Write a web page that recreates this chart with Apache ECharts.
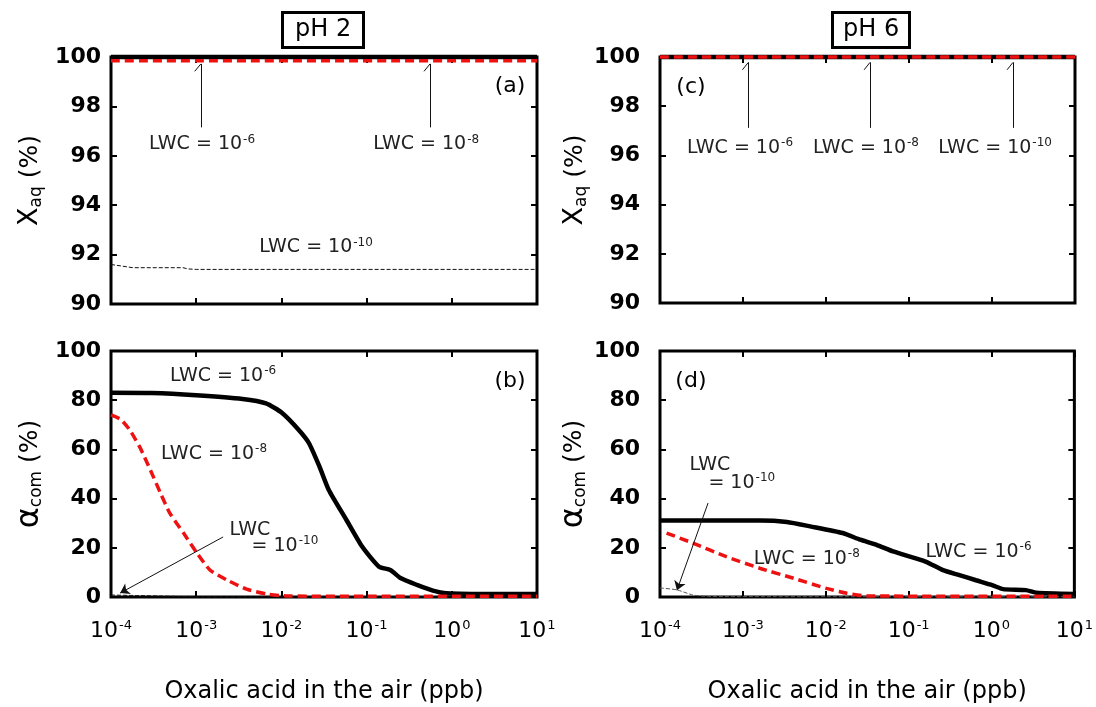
<!DOCTYPE html>
<html><head><meta charset="utf-8">
<script src="https://cdn.jsdelivr.net/npm/echarts@6/dist/echarts.min.js"></script>
<style>html,body{margin:0;padding:0;background:#fff}#c{width:1096px;height:707px}</style>
</head><body><div id="c"></div>
<script>
// ---------- data ----------
const tickExponents = ['-4', '-3', '-2', '-1', '0', '1'];
const panelTitles = ['pH 2', 'pH 6'];

// (a) pH 2, X_aq (%)
const aX_lwc6 = [1e-4, 10];
const aY_lwc6 = [100, 100];
const aX_lwc8 = [1e-4, 10];
const aY_lwc8 = [99.85, 99.85];
const aX_lwc10 = [1e-4, 1.8e-4, 7e-4, 8e-4, 1e-3, 10];
const aY_lwc10 = [91.6, 91.47, 91.47, 91.42, 91.4, 91.4];

// (b) pH 2, alpha_com (%)
const bX_lwc6 = [1e-4, 3e-4, 1e-3, 3.5e-3, 6.6e-3, 1.02e-2, 1.6e-2, 2.1e-2, 2.8e-2, 3.6e-2, 5.8e-2, 8.9e-2, 0.14, 0.19, 0.25, 0.39, 0.6, 0.87, 3.2, 10];
const bY_lwc6 = [83, 82.9, 82, 80.5, 78.7, 74.8, 67.9, 62.6, 53, 43.5, 31.3, 20.4, 12.3, 11, 7.7, 4.9, 2.6, 1.5, 1.2, 1.2];
const bX_lwc8 = [1e-4, 1.3e-4, 1.66e-4, 2.2e-4, 2.9e-4, 3.8e-4, 4.9e-4, 7.1e-4, 1.02e-3, 1.45e-3, 2.3e-3, 3.9e-3, 6.8e-3, 1.2e-2, 0.1, 10];
const bY_lwc8 = [74, 72.2, 67.9, 60.6, 51.6, 42.3, 34.1, 26, 17.9, 11, 6.9, 3.2, 1.2, 0.4, 0.3, 0.3];
const bX_lwc10 = [1e-4, 2e-4, 5e-4, 1e-3, 10];
const bY_lwc10 = [0.8, 0.6, 0.3, 0.1, 0.05];

// (c) pH 6, X_aq (%)
const cX_lwc6 = [1e-4, 10];
const cY_lwc6 = [100, 100];
const cX_lwc8 = [1e-4, 10];
const cY_lwc8 = [100, 100];
const cX_lwc10 = [1e-4, 10];
const cY_lwc10 = [100, 100];

// (d) pH 6, alpha_com (%)
const dX_lwc6 = [1e-4, 1.6e-3, 3.4e-3, 6.5e-3, 1.6e-2, 2.6e-2, 4.1e-2, 6.5e-2, 0.16, 0.26, 0.41, 0.65, 1.02, 1.38, 2.6, 3.5, 10];
const dY_lwc6 = [31.1, 31.1, 30.5, 28.7, 26, 23.3, 21.2, 18.5, 14.4, 10.9, 8.9, 6.8, 4.8, 3.2, 2.8, 1.7, 1.2];
const dX_lwc8 = [1.2e-4, 2.5e-4, 6.3e-4, 1.6e-3, 4.1e-3, 1.02e-2, 1.8e-2, 3.1e-2, 10];
const dY_lwc8 = [26, 21.9, 16.4, 11.7, 7.6, 3.5, 1.5, 0.4, 0.3];
const dX_lwc10 = [1e-4, 1.6e-4, 2.5e-4, 4e-4, 10];
const dY_lwc10 = [3.7, 2.9, 0.8, 0.2, 0.1];

// ---------- helpers ----------
const FONT = 'DejaVu Sans';
const RED = '#ee1111';
const zip = (xs, ys) => xs.map((x, i) => [x, ys[i]]);

const RICH = {
  n: {fontFamily: FONT, fontSize: 19, color: '#222', lineHeight: 22},
  s: {fontFamily: FONT, fontSize: 12, color: '#222', verticalAlign: 'top', lineHeight: 12, padding: [0, 0, 0, 1]},
  p: {fontFamily: FONT, fontSize: 22, color: '#000', lineHeight: 26}
};
const txt = (x, y, s) => ({coord: [x, y], label: {formatter: s}});
const seg = (x1, y1, x2, y2) => [{coord: [x1, y1]}, {coord: [x2, y2]}];

function marks(texts, lines, arrows) {
  return {
    markPoint: {
      symbol: 'circle', symbolSize: 1, silent: true, animation: false,
      itemStyle: {color: 'rgba(0,0,0,0)'},
      label: {show: true, position: 'inside', color: '#222', rich: RICH},
      data: texts
    },
    markLine: {
      silent: true, animation: false, symbol: ['none', 'none'],
      label: {show: false},
      lineStyle: {color: '#111', width: 1, type: 'solid'},
      data: lines.concat(arrows.map(a => [a[0], Object.assign({}, a[1], {symbol: 'arrow', symbolSize: 9})]))
    }
  };
}

function lineSeries(name, xi, data, style, extra) {
  return Object.assign({
    name, type: 'line', xAxisIndex: xi, yAxisIndex: xi, data,
    showSymbol: false, symbol: 'none', smooth: 0.2, animation: false,
    lineStyle: style, clip: false
  }, extra || {});
}
const S6 = {color: '#000', width: 4.5, type: 'solid'};
const S8 = {color: RED, width: 3.5, type: [9, 5]};
const S10 = {color: '#111', width: 1, type: [4, 2]};

// ---------- layout ----------
const grids = [
  {left: 111, top: 57, width: 426, height: 247},
  {left: 111, top: 351, width: 426, height: 246},
  {left: 660, top: 57, width: 415, height: 246},
  {left: 660, top: 351, width: 415, height: 246}
].map(g => Object.assign(g, {show: true, borderColor: '#000', borderWidth: 3, backgroundColor: 'transparent'}));

const tick = {show: true, inside: true, length: 6, lineStyle: {color: '#000', width: 2}};
const xAxes = [], yAxes = [];
grids.forEach((g, i) => {
  const bottomRow = (i === 1 || i === 3);
  const leftCol = (i < 2);
  xAxes.push({
    type: 'log', logBase: 10, min: 1e-4, max: 10, gridIndex: i, position: 'bottom',
    axisLine: {show: false, onZero: false}, axisTick: tick, splitLine: {show: false}, minorTick: {show: false},
    axisLabel: {
      show: bottomRow, margin: 22,
      formatter: v => '{b|10}{s|' + tickExponents[Math.round(Math.log10(v)) + 4] + '}',
      rich: {
        b: {fontFamily: FONT, fontSize: 22, color: '#000', lineHeight: 24},
        s: {fontFamily: FONT, fontSize: 13, color: '#000', verticalAlign: 'top', lineHeight: 13, padding: [0, 0, 0, 1]}
      }
    },
    name: bottomRow ? 'Oxalic acid in the air (ppb)' : '', nameLocation: 'middle', nameGap: 83,
    nameTextStyle: {fontFamily: FONT, fontSize: 24, color: '#000'}
  });
  xAxes.push({
    type: 'log', logBase: 10, min: 1e-4, max: 10, gridIndex: i, position: 'top',
    axisLine: {show: false, onZero: false}, axisTick: tick, splitLine: {show: false},
    axisLabel: {show: false}
  });
  const top = (i === 0 || i === 2);
  yAxes.push({
    type: 'value', gridIndex: i, position: 'left',
    min: top ? 90 : 0, max: 100, interval: top ? 2 : 20,
    axisLine: {show: false, onZero: false}, axisTick: tick, splitLine: {show: false},
    axisLabel: {margin: leftCol ? 10 : 20, fontFamily: FONT, fontSize: 22, fontWeight: 'bold', color: '#000'},
    name: top ? '{x|X}{sub|aq}{p| (%)}' : '{a|α}{sub|com}{p| (%)}',
    nameLocation: 'middle', nameGap: leftCol ? 66 : 56,
    nameTextStyle: {
      fontFamily: FONT, fontSize: 24, color: '#000',
      rich: {
        x: {fontFamily: FONT, fontSize: 27, color: '#000', lineHeight: 30},
        a: {fontFamily: FONT, fontSize: 32, color: '#000', lineHeight: 30},
        sub: {fontFamily: FONT, fontSize: 17, color: '#000', verticalAlign: 'bottom', lineHeight: 17},
        p: {fontFamily: FONT, fontSize: 25, color: '#000', lineHeight: 30}
      }
    }
  });
  yAxes.push({
    type: 'value', gridIndex: i, position: 'right',
    min: top ? 90 : 0, max: 100, interval: top ? 2 : 20,
    axisLine: {show: false, onZero: false}, axisTick: tick, splitLine: {show: false},
    axisLabel: {show: false}
  });
});

// grid i -> primary x axis 2i, primary y axis 2i
const series = [
  // (a)
  lineSeries('a10', 0, zip(aX_lwc10, aY_lwc10), S10, Object.assign({smooth: false}, marks(
    [txt(1.17e-3, 96.46, '{n|LWC = 10}{s|-6}'),
     txt(0.50, 96.46, '{n|LWC = 10}{s|-8}'),
     txt(2.55e-2, 92.29, '{n|LWC = 10}{s|-10}'),
     txt(4.82, 98.82, '{p|(a)}')],
    [seg(9.6e-4, 99.42, 1.135e-3, 99.72), seg(1.135e-3, 99.72, 1.135e-3, 97.15),
     seg(0.472, 99.42, 0.555, 99.72), seg(0.555, 99.72, 0.555, 97.15)],
    []))),
  lineSeries('a6', 0, zip(aX_lwc6, aY_lwc6), S6),
  lineSeries('a8', 0, zip(aX_lwc8, aY_lwc8), S8),
  // (b)
  lineSeries('b10', 2, zip(bX_lwc10, bY_lwc10), S10, marks(
    [txt(2.07e-3, 89.8, '{n|LWC = 10}{s|-6}'),
     txt(1.62e-3, 58.1, '{n|LWC = 10}{s|-8}'),
     txt(4.27e-3, 27.2, '{n|LWC}'),
     txt(1.10e-2, 20.7, '{n|= 10}{s|-10}'),
     txt(4.82, 87.8, '{p|(b)}')],
    [],
    [seg(2.07e-3, 24.4, 1.28e-4, 1.6)])),
  lineSeries('b6', 2, zip(bX_lwc6, bY_lwc6), S6),
  lineSeries('b8', 2, zip(bX_lwc8, bY_lwc8), S8),
  // (c)
  lineSeries('c10', 4, zip(cX_lwc10, cY_lwc10), S10, marks(
    [txt(2.36e-4, 98.78, '{p|(c)}'),
     txt(9.2e-4, 96.3, '{n|LWC = 10}{s|-6}'),
     txt(3.03e-2, 96.3, '{n|LWC = 10}{s|-8}'),
     txt(1.09, 96.3, '{n|LWC = 10}{s|-10}')],
    [seg(9.84e-4, 99.48, 1.159e-3, 99.78), seg(1.159e-3, 99.78, 1.159e-3, 97.12),
     seg(2.88e-2, 99.48, 3.39e-2, 99.78), seg(3.39e-2, 99.78, 3.39e-2, 97.12),
     seg(1.52, 99.48, 1.79, 99.78), seg(1.79, 99.78, 1.79, 97.12)],
    [])),
  lineSeries('c6', 4, zip(cX_lwc6, cY_lwc6), S6),
  lineSeries('c8', 4, zip(cX_lwc8, cY_lwc8), S8),
  // (d)
  lineSeries('d10', 6, zip(dX_lwc10, dY_lwc10), Object.assign({}, S10, {color: '#555'}), marks(
    [txt(2.36e-4, 87.6, '{p|(d)}'),
     txt(4.0e-4, 53.8, '{n|LWC}'),
     txt(9.7e-4, 46.4, '{n|= 10}{s|-10}'),
     txt(5.9e-3, 15.4, '{n|LWC = 10}{s|-8}'),
     txt(0.697, 18.2, '{n|LWC = 10}{s|-6}')],
    [],
    [seg(3.8e-4, 38.2, 1.6e-4, 2.7)])),
  lineSeries('d6', 6, zip(dX_lwc6, dY_lwc6), S6),
  lineSeries('d8', 6, zip(dX_lwc8, dY_lwc8), S8)
];

const titleStyle = {fontFamily: FONT, fontSize: 24, fontWeight: 'normal', color: '#000', lineHeight: 26};
const option = {
  backgroundColor: '#fff',
  animation: false,
  title: [
    {text: panelTitles[0], left: 282, top: 12, padding: [5, 13], borderColor: '#000', borderWidth: 3, textStyle: titleStyle},
    {text: panelTitles[1], left: 832, top: 12, padding: [5, 11], borderColor: '#000', borderWidth: 3, textStyle: titleStyle}
  ],
  grid: grids,
  xAxis: xAxes,
  yAxis: yAxes,
  series
};
const chart = echarts.init(document.getElementById('c'), null, {renderer: 'canvas'});
chart.setOption(option);
</script>
</body></html>
